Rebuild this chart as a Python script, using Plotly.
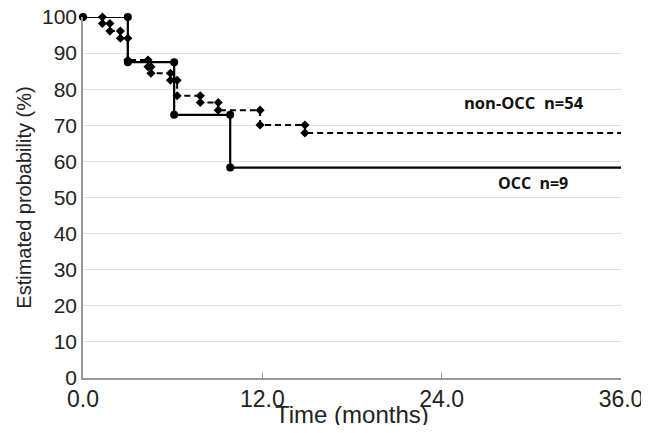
import plotly.graph_objects as go

# Kaplan-Meier estimates (months, %)
occ_times = [0.0, 3.0, 6.1, 9.85]
occ_surv = [100.0, 87.5, 72.9, 58.3]

non_times = [0.0, 1.3, 1.8, 2.5, 3.0, 4.35, 4.55, 5.85, 6.3, 7.85, 9.05, 11.85, 14.85]
non_surv = [100.0, 98.2, 96.1, 94.1, 88.1, 86.2, 84.4, 82.5, 78.2, 76.3, 74.2, 70.1, 67.9]

x_end = 36.0
x_ticks = [0, 12, 24, 36]
x_tick_labels = ["0.0", "12.0", "24.0", "36.0"]
y_ticks = list(range(0, 101, 10))


def step_vertices(times, surv):
    xs, ys = [times[0]], [surv[0]]
    for i in range(1, len(times)):
        xs += [times[i], times[i]]
        ys += [surv[i - 1], surv[i]]
    return xs, ys


fig = go.Figure()

nx, ny = step_vertices(non_times, non_surv)
fig.add_trace(go.Scatter(x=nx + [x_end], y=ny + [non_surv[-1]], mode="lines",
                         line=dict(color="black", width=2, dash="6px,4px"),
                         line_shape="hv", showlegend=False, cliponaxis=False,
                         hoverinfo="skip"))
fig.add_trace(go.Scatter(x=nx, y=ny, mode="markers",
                         marker=dict(color="black", size=7, symbol="diamond"),
                         showlegend=False, cliponaxis=False))

ox, oy = step_vertices(occ_times, occ_surv)
fig.add_trace(go.Scatter(x=ox + [x_end], y=oy + [occ_surv[-1]], mode="lines",
                         line=dict(color="black", width=2.2),
                         line_shape="hv", showlegend=False, cliponaxis=False,
                         hoverinfo="skip"))
fig.add_trace(go.Scatter(x=ox, y=oy, mode="markers",
                         marker=dict(color="black", size=8, symbol="circle"),
                         showlegend=False, cliponaxis=False))

fig.add_annotation(x=29.5, y=76.2, text="<b>non-OCC  n=54</b>", showarrow=False,
                   font=dict(family="Open Sans", size=16.5, color="#111"))
fig.add_annotation(x=30.1, y=54.0, text="<b>OCC  n=9</b>", showarrow=False,
                   font=dict(family="Open Sans", size=16, color="#111"))

fig.add_annotation(x=0.5, y=-0.1, xref="paper", yref="paper",
                   text="Time (months)", showarrow=False, yanchor="middle",
                   font=dict(family="Liberation Sans", size=24, color="#222"))

fig.update_layout(
    width=641, height=417,
    margin=dict(l=75, r=28, t=9, b=47),
    paper_bgcolor="white", plot_bgcolor="white",
    font=dict(family="Liberation Sans, Arial", size=18, color="#222"),
    xaxis=dict(range=[0, x_end], tickvals=x_ticks, ticktext=x_tick_labels,
               showgrid=False, zeroline=False, showline=True, linecolor="#999",
               linewidth=1.5, ticks="inside", ticklen=5, tickcolor="#999",
               automargin=False, ticklabeloverflow="allow",
               tickfont=dict(size=23)),
    yaxis=dict(range=[0, 100], tickvals=y_ticks, showgrid=True,
               gridcolor="#e0e0e0", gridwidth=1, zeroline=False, showline=True,
               linecolor="#999", linewidth=1.5, ticks="",
               automargin=False, ticklabeloverflow="allow",
               title=dict(text="Estimated probability (%)", standoff=5,
                          font=dict(family="Liberation Sans, Arial", size=20,
                                    color="#222")),
               tickfont=dict(size=21)),
)

fig.write_html("out.html")
